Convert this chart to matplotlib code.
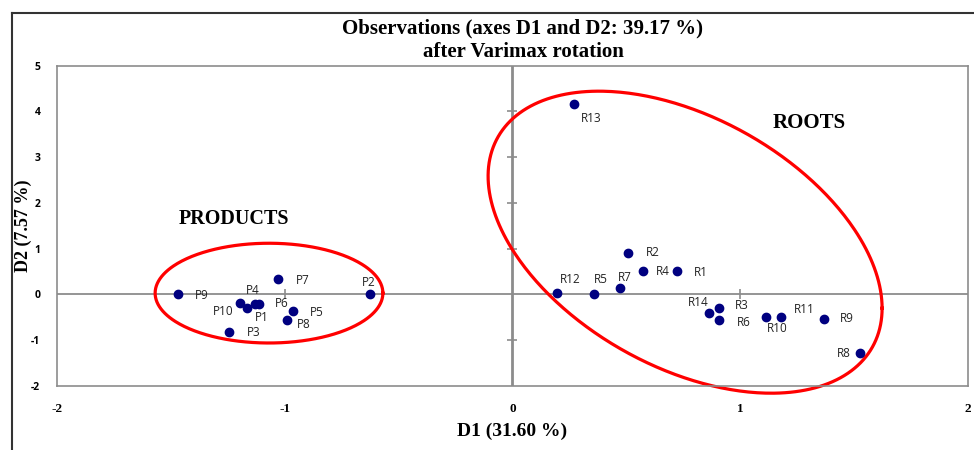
import numpy as np
import matplotlib
matplotlib.use("Agg")
import matplotlib.pyplot as plt
from matplotlib.lines import Line2D

plt.rcParams["axes.unicode_minus"] = False

# observations after Varimax rotation
p_names = ["P1", "P2", "P3", "P4", "P5", "P6", "P7", "P8", "P9", "P10"]
p_d1 = [-1.164, -0.625, -1.243, -1.130, -0.962, -1.112, -1.028, -0.991, -1.468, -1.196]
p_d2 = [-0.29, 0.00, -0.817, -0.20, -0.365, -0.20, 0.334, -0.547, 0.00, -0.19]

r_names = ["R1", "R2", "R3", "R4", "R5", "R6", "R7", "R8", "R9", "R10",
           "R11", "R12", "R13", "R14"]
r_d1 = [0.723, 0.509, 0.905, 0.573, 0.356, 0.909, 0.470, 1.527, 1.366, 1.114,
        1.181, 0.195, 0.268, 0.865]
r_d2 = [0.503, 0.909, -0.293, 0.503, 0.013, -0.561, 0.144, -1.268, -0.534, -0.49,
        -0.49, 0.035, 4.16, -0.402]

xticks = [-2, -1, 0, 1, 2]
yticks = [-2, -1, 0, 1, 2, 3, 4, 5]

# label offsets in pixels (label centre relative to dot)
p_off = {"P1": (14, -10), "P2": (-1, 12), "P3": (24, -1), "P4": (-2, 13),
         "P5": (23, -1), "P6": (23, 0), "P7": (24, -1), "P8": (17, -5),
         "P9": (24, -1), "P10": (-17, -8)}
r_off = {"R1": (24, -1), "R2": (24, 0), "R3": (23, 2), "R4": (20, 0),
         "R5": (7, 14), "R6": (24, -2), "R7": (5, 10), "R8": (-16, -1),
         "R9": (23, 0), "R10": (11, -12), "R11": (23, 7), "R12": (13, 13),
         "R13": (18, -14), "R14": (-11, 10)}

navy = "#000080"
grey = "#8c8c8c"
serif = "Liberation Serif"
sans = "Open Sans"

fig = plt.figure(figsize=(9.74, 4.5), dpi=100)
ax = fig.add_axes([0.0585, 0.1422, 0.9353, 0.7118])

ax.set_xlim(-2, 2)
ax.set_ylim(-2, 5)

# zero lines with small crossing ticks
ax.axhline(0, color=grey, lw=1.3, zorder=1)
ax.axvline(0, color=grey, lw=2.0, zorder=1)
inner_x = [v for v in xticks if v not in (xticks[0], 0, xticks[-1])]
inner_y = [v for v in yticks if v not in (yticks[0], 0, yticks[-1])]
ax.plot(inner_x, [0] * len(inner_x), ls="none", marker="|",
        ms=7, mew=1.2, color=grey, zorder=1)
ax.plot([0] * len(inner_y), inner_y, ls="none", marker="_",
        ms=7, mew=1.2, color=grey, zorder=1)

ax.plot(p_d1, p_d2, "o", color=navy, ms=6, zorder=3)
ax.plot(r_d1, r_d2, "o", color=navy, ms=6, zorder=3)

for n, x, y in zip(p_names, p_d1, p_d2):
    ax.annotate(n, (x, y), xytext=p_off[n], textcoords="offset pixels",
                ha="center", va="center", fontsize=8.5, family=sans, color="#222222")
for n, x, y in zip(r_names, r_d1, r_d2):
    ax.annotate(n, (x, y), xytext=r_off[n], textcoords="offset pixels",
                ha="center", va="center", fontsize=8.5, family=sans, color="#222222")

# group ellipses (centre + conjugate semi-axes in data units)
t = np.linspace(0, 2 * np.pi, 400)
pc, pu, pv = (-1.069, 0.03), (0.50, 0.0), (0.0, 1.09)
ax.plot(pc[0] + pu[0] * np.cos(t) + pv[0] * np.sin(t),
        pc[1] + pu[1] * np.cos(t) + pv[1] * np.sin(t),
        color="red", lw=2.3, zorder=2, clip_on=False)
rc, ru, rv = (0.758, 1.143), (0.865, -1.443), (0.0, 2.968)
ax.plot(rc[0] + ru[0] * np.cos(t) + rv[0] * np.sin(t),
        rc[1] + ru[1] * np.cos(t) + rv[1] * np.sin(t),
        color="red", lw=2.3, zorder=2, clip_on=False)

ax.text(-1.222, 1.646, "PRODUCTS", ha="center", va="center", fontsize=14.5,
        fontweight="bold", family=serif)
ax.text(1.302, 3.745, "ROOTS", ha="center", va="center", fontsize=15,
        fontweight="bold", family=serif)

for s in ax.spines.values():
    s.set_color(grey)
    s.set_linewidth(1.2)

ax.set_xticks(xticks)
ax.set_yticks(yticks)
ax.tick_params(length=0, pad=12)
for lab in ax.get_xticklabels():
    lab.set_family(serif)
    lab.set_fontweight("bold")
    lab.set_fontsize(9.5)
ax.tick_params(axis="y", pad=12)
for lab in ax.get_yticklabels():
    lab.set_family(sans)
    lab.set_fontweight("bold")
    lab.set_fontsize(7.5)

ax.set_xlabel("D1 (31.60 %)", family=serif, fontweight="bold", fontsize=14, labelpad=6)
ax.set_ylabel("D2 (7.57 %)", family=serif, fontweight="bold", fontsize=13, va="center")
ax.yaxis.set_label_coords(-0.037, 0.5)

fig.text(523 / 974, 1 - 28 / 450, "Observations (axes D1 and D2: 39.17 %)",
         ha="center", va="center", fontsize=15, fontweight="bold", family=serif)
fig.text(523 / 974, 1 - 52 / 450, "after Varimax rotation",
         ha="center", va="center", fontsize=15, fontweight="bold", family=serif)

# outer frame
fig.add_artist(Line2D([12 / 974, 12 / 974], [0, 1 - 13 / 450], color="#333333", lw=1.5))
fig.add_artist(Line2D([12 / 974, 1], [1 - 13 / 450, 1 - 13 / 450], color="#333333", lw=1.5))

fig.savefig("out.png", dpi=100)
